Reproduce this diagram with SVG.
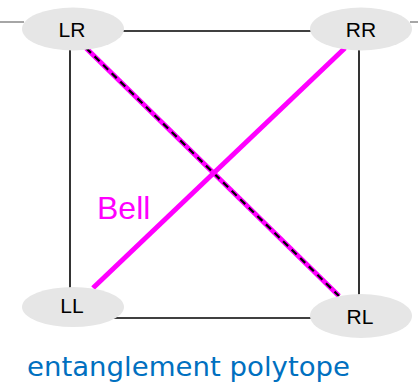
<svg xmlns="http://www.w3.org/2000/svg" width="418" height="385" viewBox="0 0 418 385">
<style>
.node{fill:#e6e6e6;stroke:none}
.lbl{font-family:"Liberation Sans",Arial,sans-serif;font-size:21px;fill:#000;text-anchor:middle}
.edge{stroke:#000;stroke-width:1.6;fill:none}
.bell{stroke:#ff00ff;stroke-width:5;fill:none;stroke-linecap:butt}
.dash{stroke:#000;stroke-width:2.2;stroke-dasharray:7 5;fill:none}
.gray{stroke:#888;stroke-width:1.5}
</style>
<rect width="418" height="385" fill="#fff"/>
<g id="connectors">
<line class="gray" x1="0" y1="22" x2="24" y2="22"/>
<line class="gray" x1="410" y1="22" x2="418" y2="22"/>
<line class="edge" x1="120" y1="31" x2="314" y2="31"/>
<line class="edge" x1="70" y1="45" x2="70" y2="292"/>
<line class="edge" x1="359" y1="45" x2="359" y2="298"/>
<line class="edge" x1="110" y1="318" x2="315" y2="318"/>
<line class="bell" x1="86" y1="48" x2="339" y2="296"/>
<line class="dash" x1="86" y1="48" x2="339" y2="296"/>
<line class="bell" x1="345" y1="48" x2="93" y2="288"/>
</g>
<g id="LR"><ellipse class="node" cx="73" cy="29" rx="51" ry="21.5"/><text class="lbl" x="72" y="37">LR</text></g>
<g id="RR"><ellipse class="node" cx="361" cy="29" rx="51" ry="21.5"/><text class="lbl" x="361" y="37">RR</text></g>
<g id="LL"><ellipse class="node" cx="73" cy="307" rx="51" ry="20"/><text class="lbl" x="72" y="313">LL</text></g>
<g id="RL"><ellipse class="node" cx="361" cy="316" rx="51" ry="22"/><text class="lbl" x="360" y="324">RL</text></g>
<text x="97" y="219" font-family="Liberation Sans,Arial,sans-serif" font-size="32" fill="#ff00ff">Bell</text>
<text x="27" y="376" font-family="DejaVu Sans,Verdana,sans-serif" font-size="26.5" fill="#0070c0" textLength="323" lengthAdjust="spacingAndGlyphs">entanglement polytope</text>
</svg>
